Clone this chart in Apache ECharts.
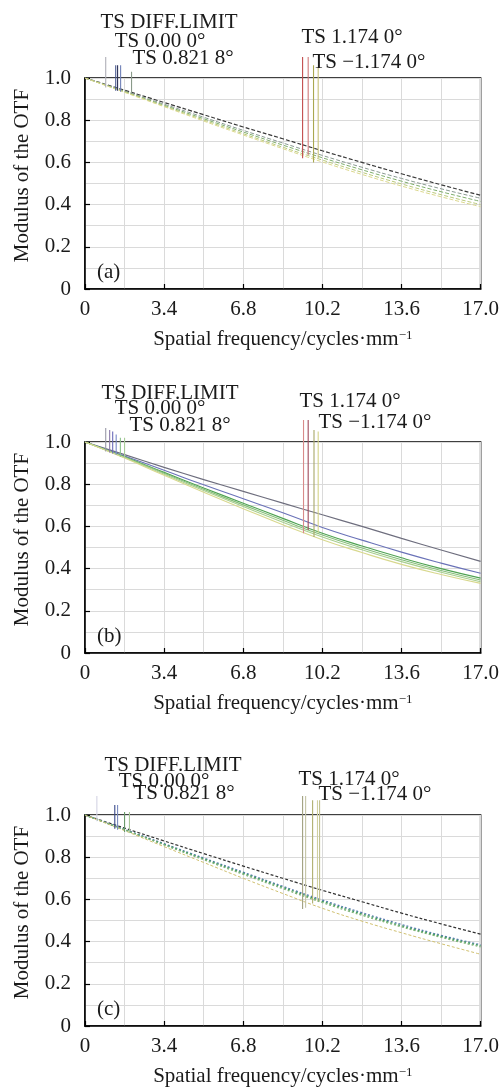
<!DOCTYPE html>
<html><head><meta charset="utf-8">
<script src="https://cdn.jsdelivr.net/npm/echarts/dist/echarts.min.js"></script>
<style>html,body{margin:0;padding:0;background:#fff}#chart{width:502px;height:1092px}</style>
</head><body><div id="chart"></div>
<script>
// ---- data ----
const freq = [0, 1.7, 3.4, 5.1, 6.8, 8.5, 10.2, 11.9, 13.6, 15.3, 17.0];
const xTickLabels = ['0', '3.4', '6.8', '10.2', '13.6', '17.0'];
const yTickLabels = ['0', '0.2', '0.4', '0.6', '0.8', '1.0'];
const fieldLabels = ['TS DIFF.LIMIT', 'TS 0.00 0°', 'TS 0.821 8°', 'TS 1.174 0°', 'TS \u22121.174 0°'];
const panelTags = ['(a)', '(b)', '(c)'];
const xTitle = 'Spatial frequency/cycles·mm';
const xTitleSup = '\u22121';
const yTitle = 'Modulus of the OTF';

// panel (a)
const aDiff  = [1.0, 0.942, 0.884, 0.826, 0.768, 0.712, 0.655, 0.600, 0.546, 0.494, 0.444];
const a000   = [1.0, 0.938, 0.876, 0.814, 0.752, 0.692, 0.633, 0.577, 0.524, 0.475, 0.430];
const a821   = [1.0, 0.936, 0.871, 0.807, 0.744, 0.682, 0.622, 0.565, 0.511, 0.461, 0.415];
const a1174  = [1.0, 0.934, 0.867, 0.801, 0.736, 0.672, 0.611, 0.553, 0.498, 0.447, 0.400];
const aM1174 = [1.0, 0.932, 0.864, 0.796, 0.730, 0.665, 0.602, 0.543, 0.488, 0.437, 0.390];
const aLeadFreq = [0.89, 1.32, 1.40, 1.53, 2.00, 9.35, 9.59, 9.82, 10.02];
const aLeadTop  = [1.10, 1.06, 1.06, 1.06, 1.03, 1.10, 1.10, 1.06, 1.05];
const aLeadEnd  = [0.955, 0.94, 0.94, 0.935, 0.925, 0.62, 0.635, 0.60, 0.62];

// panel (b)
const bDiff  = [1.0, 0.940, 0.880, 0.822, 0.766, 0.710, 0.655, 0.600, 0.543, 0.488, 0.434];
const b000   = [1.0, 0.934, 0.866, 0.797, 0.731, 0.665, 0.595, 0.535, 0.478, 0.426, 0.378];
const b821T  = [1.0, 0.930, 0.856, 0.782, 0.710, 0.638, 0.568, 0.507, 0.451, 0.400, 0.355];
const b821S  = [1.0, 0.928, 0.852, 0.776, 0.702, 0.629, 0.559, 0.498, 0.442, 0.391, 0.346];
const b1174  = [1.0, 0.926, 0.847, 0.770, 0.694, 0.620, 0.550, 0.489, 0.433, 0.383, 0.338];
const bM1174 = [1.0, 0.924, 0.842, 0.762, 0.684, 0.608, 0.537, 0.476, 0.420, 0.372, 0.330];
const bLeadFreq = [0.89, 1.06, 1.19, 1.34, 1.52, 1.70, 9.39, 9.59, 9.84, 10.02];
const bLeadTop  = [1.066, 1.057, 1.05, 1.035, 1.02, 1.02, 1.104, 1.104, 1.057, 1.05];
const bLeadEnd  = [0.955, 0.95, 0.945, 0.94, 0.93, 0.925, 0.568, 0.583, 0.55, 0.57];

// panel (c)
const cDiff  = [1.0, 0.938, 0.877, 0.817, 0.758, 0.700, 0.643, 0.589, 0.535, 0.484, 0.435];
const c000   = [1.0, 0.932, 0.864, 0.796, 0.729, 0.662, 0.597, 0.537, 0.481, 0.430, 0.385];
const c821T  = [1.0, 0.930, 0.861, 0.792, 0.724, 0.657, 0.591, 0.531, 0.475, 0.425, 0.380];
const c821S  = [1.0, 0.929, 0.858, 0.788, 0.719, 0.651, 0.585, 0.525, 0.470, 0.420, 0.375];
const cM1174 = [1.0, 0.926, 0.850, 0.775, 0.700, 0.628, 0.558, 0.497, 0.442, 0.390, 0.340];
const cLeadFreq = [0.51, 1.28, 1.40, 1.70, 1.91, 9.35, 9.48, 9.78, 9.99, 10.08];
const cLeadTop  = [1.09, 1.047, 1.047, 1.014, 1.014, 1.09, 1.09, 1.07, 1.07, 1.07];
const cLeadEnd  = [0.97, 0.935, 0.93, 0.92, 0.915, 0.555, 0.56, 0.58, 0.59, 0.59];

// ---- layout / style ----
const FONT = '"Liberation Serif","Times New Roman",serif';
const TXT = '#1a1a1a';
const FS = 21;
const GRID_L = 85, GRID_R = 17, GH = 211;
const gridTops = [78, 442, 815];

const panels = [
  {
    curves: [
      {v: aDiff,  c: '#3a3a3a', d: [4, 2], w: 1.2},
      {v: a000,   c: '#8a9a92', d: [4, 2], w: 1},
      {v: a821,   c: '#7fae6c', d: [4, 2], w: 1},
      {v: a1174,  c: '#b9c97a', d: [4, 2], w: 1},
      {v: aM1174, c: '#dcd88e', d: [4, 2], w: 1}
    ],
    lead: {f: aLeadFreq, t: aLeadTop, e: aLeadEnd},
    leadColors: ['#b0b0b8', '#4a5a90', '#2e3358', '#7080b8', '#8a9a8a', '#c24c4c', '#d07a7a', '#aaa850', '#c8c27a'],
    labelPos: [[169, -56], [160, -37], [183, -20], [352, -41], [369, -16]]
  },
  {
    curves: [
      {v: bDiff,  c: '#6e6e7e', d: 'solid', w: 1.2},
      {v: b000,   c: '#6a72b8', d: 'solid', w: 1.1},
      {v: b821T,  c: '#4fa352', d: 'solid', w: 1.1},
      {v: b821S,  c: '#86be7a', d: 'solid', w: 1.1},
      {v: b1174,  c: '#a8cf8e', d: 'solid', w: 1.1},
      {v: bM1174, c: '#d8d88e', d: 'solid', w: 1.1}
    ],
    lead: {f: bLeadFreq, t: bLeadTop, e: bLeadEnd},
    leadColors: ['#9a9aa8', '#8a7aa8', '#6a6ab8', '#7a8ac8', '#8ac08a', '#a8cc98', '#d88a8a', '#a04a5a', '#a8a868', '#d4d488'],
    labelPos: [[170, -49], [160, -34], [180, -17], [350, -41], [375, -20]]
  },
  {
    curves: [
      {v: cDiff,  c: '#333333', d: [3, 2], w: 1.2},
      {v: c000,   c: '#5a7ab0', d: [2, 2], w: 1.3},
      {v: c821T,  c: '#3f9a62', d: [2, 2], w: 1.3},
      {v: c821S,  c: '#82b478', d: [2, 2], w: 1.3},
      {v: cM1174, c: '#d0c070', d: [3, 2], w: 1}
    ],
    lead: {f: cLeadFreq, t: cLeadTop, e: cLeadEnd},
    leadColors: ['#d4d4e4', '#3a4a8a', '#7a8ac0', '#6a9a6a', '#a8c898', '#a0a080', '#c4c4a4', '#b0b070', '#d0d0a0', '#c0c090'],
    labelPos: [[173, -50], [164, -34], [184, -22], [349, -36], [375, -21]]
  }
];

const grids = [], xAxes = [], yAxes = [], series = [], graphic = [];
const gridLine = {color: '#dadada', width: 1};

panels.forEach((p, i) => {
  const top = gridTops[i];
  grids.push({left: GRID_L, right: GRID_R, top: top, height: GH, show: true,
              borderColor: '#000', borderWidth: 1.5, backgroundColor: 'transparent'});
  xAxes.push({
    gridIndex: i, type: 'value', min: 0, max: 17, interval: 3.4,
    axisLine: {show: true, onZero: false, lineStyle: {color: '#000', width: 1.5}},
    axisTick: {show: true, inside: true, length: 5, lineStyle: {color: '#000', width: 1.2}},
    axisLabel: {margin: 10, fontFamily: FONT, fontSize: FS, color: TXT,
                formatter: v => xTickLabels[Math.round(v / 3.4)]},
    splitLine: {show: true, lineStyle: gridLine},
    minorTick: {show: false, splitNumber: 2},
    minorSplitLine: {show: true, lineStyle: gridLine},
    name: xTitle + '{s|' + xTitleSup + '}',
    nameLocation: 'middle', nameGap: 40,
    nameTextStyle: {fontFamily: FONT, fontSize: FS, color: TXT,
      rich: {s: {fontFamily: FONT, fontSize: 13, color: TXT, verticalAlign: 'top', padding: [0, 0, 8, 0]}}}
  });
  yAxes.push({
    gridIndex: i, type: 'value', min: 0, max: 1, interval: 0.2,
    axisLine: {show: true, lineStyle: {color: '#000', width: 1.5}},
    axisTick: {show: true, inside: true, length: 5, lineStyle: {color: '#000', width: 1.2}},
    axisLabel: {margin: 14, fontFamily: FONT, fontSize: FS, color: TXT,
                formatter: v => yTickLabels[Math.round(v / 0.2)]},
    splitLine: {show: true, lineStyle: gridLine},
    minorTick: {show: false, splitNumber: 2},
    minorSplitLine: {show: true, lineStyle: gridLine},
    name: yTitle, nameLocation: 'middle', nameGap: 52,
    nameTextStyle: {fontFamily: FONT, fontSize: 21, color: TXT, padding: [0, 0, 0, 16]}
  });
  p.curves.forEach(cv => {
    series.push({
      type: 'line', xAxisIndex: i, yAxisIndex: i, smooth: true, showSymbol: false, silent: true,
      data: freq.map((f, k) => [f, cv.v[k]]),
      lineStyle: {color: cv.c, width: cv.w, type: cv.d}, z: 3
    });
  });
  p.lead.f.forEach((f, k) => {
    series.push({
      type: 'line', xAxisIndex: i, yAxisIndex: i, showSymbol: false, silent: true, clip: false,
      data: [[f, p.lead.t[k]], [f, p.lead.e[k]]],
      lineStyle: {color: p.leadColors[k], width: 1.1}, z: 4
    });
  });
  fieldLabels.forEach((t, j) => {
    graphic.push({type: 'text', x: p.labelPos[j][0], y: top + p.labelPos[j][1], z: 10,
      style: {text: t, font: FS + 'px ' + FONT, fill: TXT, align: 'center', verticalAlign: 'middle'}});
  });
  graphic.push({type: 'text', x: 97, y: top + GH - 17, z: 10,
    style: {text: panelTags[i], font: FS + 'px ' + FONT, fill: TXT, align: 'left', verticalAlign: 'middle'}});
});

const chart = echarts.init(document.getElementById('chart'), null, {renderer: 'canvas'});
chart.setOption({
  animation: false,
  backgroundColor: '#ffffff',
  grid: grids, xAxis: xAxes, yAxis: yAxes, series: series, graphic: graphic
});
</script>
</body></html>
